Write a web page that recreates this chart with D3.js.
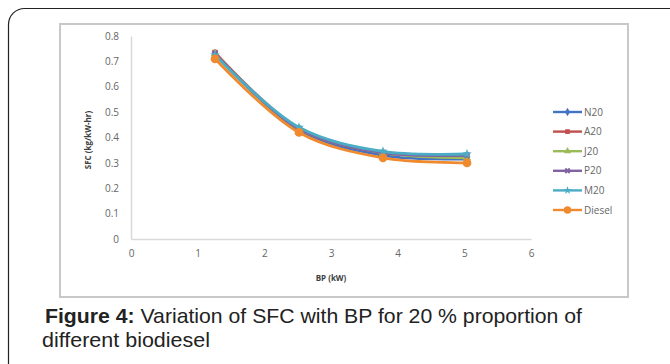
<!DOCTYPE html>
<meta charset="utf-8">
<script src="https://d3js.org/d3.v7.min.js"></script>
<style>
body { margin: 0; background: #fff; }
#chart text { font-family: "Open Sans", "DejaVu Sans", sans-serif; }
</style>
<div id="chart"></div>
<script>
// data
var bp = [1.26, 2.52, 3.78, 5.04];
var seriesNames = ["N20", "A20", "J20", "P20", "M20", "Diesel"];
var n20 = [0.73, 0.43, 0.33, 0.315];
var a20 = [0.735, 0.435, 0.34, 0.325];
var j20 = [0.73, 0.435, 0.34, 0.32];
var p20 = [0.73, 0.435, 0.34, 0.33];
var m20 = [0.725, 0.44, 0.345, 0.335];
var diesel = [0.71, 0.42, 0.32, 0.30];
var yTicks = [0, 0.1, 0.2, 0.3, 0.4, 0.5, 0.6, 0.7, 0.8];
var xTicks = [0, 1, 2, 3, 4, 5, 6];

var values = [n20, a20, j20, p20, m20, diesel];
var colors = ["#4472C4", "#C0504D", "#9BBB59", "#8064A2", "#4BACC6", "#F08A2E"];
var symbols = [d3.symbolDiamond, d3.symbolSquare, d3.symbolTriangle, d3.symbolCross, d3.symbolStar, d3.symbolCircle];

var W = 670, H = 364;
var svg = d3.select("#chart").append("svg").attr("width", W).attr("height", H);

// outer rounded frame
svg.append("rect").attr("x", 8.5).attr("y", 8.5).attr("width", 680).attr("height", 380)
  .attr("rx", 16).attr("fill", "none").attr("stroke", "#222").attr("stroke-width", 1.2);

// inner chart frame
svg.append("rect").attr("x", 60).attr("y", 24).attr("width", 568).attr("height", 273)
  .attr("fill", "#fff").attr("stroke", "#c8c8c8").attr("stroke-width", 2);

var x = d3.scaleLinear().domain([0, 6]).range([131, 531]);
var y = d3.scaleLinear().domain([0, 0.8]).range([239, 36]);

// axes
var gy = svg.append("g").attr("transform", "translate(" + x(0) + ",0)")
  .call(d3.axisLeft(y).tickValues(yTicks).tickSize(0).tickPadding(12)
    .tickFormat(function(d) { return d === 0 ? "0" : d3.format(".1f")(d); }));
gy.select(".domain").attr("stroke", "#d9d9d9").attr("stroke-width", 1.5);
gy.selectAll("text").attr("fill", "#666").style("font-size", "10px");

var gx = svg.append("g").attr("transform", "translate(0," + y(0) + ")")
  .call(d3.axisBottom(x).tickValues(xTicks).tickSize(0).tickPadding(11).tickFormat(d3.format("d")));
gx.select(".domain").attr("stroke", "#d9d9d9").attr("stroke-width", 1.5);
gx.selectAll("text").attr("fill", "#666").style("font-size", "10px");

// axis titles
svg.append("text").attr("transform", "translate(91,140) rotate(-90)")
  .attr("text-anchor", "middle").attr("fill", "#404040")
  .style("font-size", "8px").style("font-weight", "bold").text("SFC (kg/kW-hr)");
svg.append("text").attr("x", 331).attr("y", 281).attr("text-anchor", "middle")
  .attr("fill", "#404040").style("font-size", "8px").style("font-weight", "bold").text("BP (kW)");

// lines
var line = d3.line().x(function(d) { return x(d[0]); }).y(function(d) { return y(d[1]); })
  .curve(d3.curveCatmullRom.alpha(0.5));

values.forEach(function(vals, i) {
  var pts = bp.map(function(b, j) { return [b, vals[j]]; });
  var g = svg.append("g");
  g.append("path").datum(pts).attr("d", line).attr("fill", "none")
    .attr("stroke", colors[i]).attr("stroke-width", 2.8);
  g.selectAll("path.m").data(pts).enter().append("path").attr("class", "m")
    .attr("transform", function(d) { return "translate(" + x(d[0]) + "," + y(d[1]) + ")" + (symbols[i] === d3.symbolCross ? " rotate(45)" : ""); })
    .attr("d", d3.symbol().type(symbols[i]).size(i === 5 ? 60 : 30))
    .attr("fill", colors[i]);
});

// legend
var leg = svg.append("g");
seriesNames.forEach(function(name, i) {
  var ly = 112 + i * 19.6;
  leg.append("line").attr("x1", 553).attr("x2", 582).attr("y1", ly).attr("y2", ly)
    .attr("stroke", colors[i]).attr("stroke-width", 2.4);
  leg.append("path").attr("transform", "translate(567.5," + ly + ")" + (symbols[i] === d3.symbolCross ? " rotate(45)" : ""))
    .attr("d", d3.symbol().type(symbols[i]).size(i === 5 ? 45 : 22)).attr("fill", colors[i]);
  leg.append("text").attr("x", 584).attr("y", ly + 3.5).attr("fill", "#666")
    .style("font-size", "10px").text(name);
});

// caption
var capFont = "'Liberation Sans Narrow', 'Arial Narrow', 'Liberation Sans', sans-serif";
var cap = svg.append("text").attr("x", 45).attr("y", 323)
  .attr("textLength", 537).attr("lengthAdjust", "spacingAndGlyphs")
  .style("font-family", capFont).style("font-size", "21px").attr("fill", "#222");
cap.append("tspan").style("font-weight", "bold").text("Figure 4:");
cap.append("tspan").text(" Variation of SFC with BP for 20 % proportion of");
svg.append("text").attr("x", 42).attr("y", 347)
  .attr("textLength", 168).attr("lengthAdjust", "spacingAndGlyphs")
  .style("font-family", capFont).style("font-size", "21px").attr("fill", "#222").text("different biodiesel");
</script>
